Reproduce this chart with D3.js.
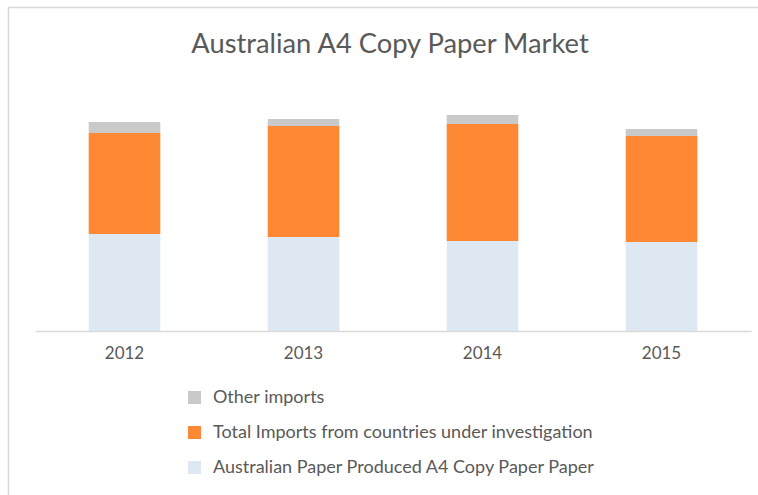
<!DOCTYPE html>
<html>
<head>
<meta charset="utf-8">
<script src="https://cdn.jsdelivr.net/npm/d3@7"></script>
<style>
  html, body { margin: 0; padding: 0; background: #ffffff; }
  svg { display: block; }
  text { font-family: Lato, "Open Sans", sans-serif; fill: #595959; }
</style>
</head>
<body>
<svg id="chart" width="758" height="495"></svg>
<script>
// Market volumes by year (thousand tonnes)
const years = ["2012", "2013", "2014", "2015"];
const domestic = [97, 94, 90, 89];        // Australian Paper Produced A4 Copy Paper Paper
const investigated = [101, 111, 117, 106]; // Total Imports from countries under investigation
const otherImports = [11, 7, 9, 7];        // Other imports

const seriesNames = [
  "Australian Paper Produced A4 Copy Paper Paper",
  "Total Imports from countries under investigation",
  "Other imports"
];
const seriesColors = ["#dee8f3", "#fe8834", "#c9c9c9"];

const rows = years.map((y, i) => ({
  year: y,
  s0: domestic[i],
  s1: investigated[i],
  s2: otherImports[i]
}));
const keys = ["s0", "s1", "s2"];

const svg = d3.select("#chart");

// chart frame
svg.append("rect")
  .attr("x", 8.5).attr("y", 7.5)
  .attr("width", 800).attr("height", 600)
  .attr("fill", "#ffffff")
  .attr("stroke", "#d9d9d9").attr("stroke-width", 1.5);

// title
svg.append("text")
  .attr("x", 390).attr("y", 53)
  .attr("text-anchor", "middle")
  .style("font-size", "27.3px")
  .text("Australian A4 Copy Paper Market");

const plot = { left: 35, right: 751, top: 81, bottom: 331 };

const x = d3.scaleBand()
  .domain(years)
  .range([plot.left, plot.right])
  .paddingInner(0.6)
  .paddingOuter(0.3);

const y = d3.scaleLinear()
  .domain([0, 250])
  .range([plot.bottom, plot.top]);

const stack = d3.stack().keys(keys)(rows);

svg.append("g")
  .selectAll("g")
  .data(stack)
  .join("g")
  .attr("fill", (d, i) => seriesColors[i])
  .selectAll("rect")
  .data(d => d)
  .join("rect")
  .attr("x", d => x(d.data.year))
  .attr("width", x.bandwidth())
  .attr("y", d => y(d[1]))
  .attr("height", d => y(d[0]) - y(d[1]));

// category axis
const axis = svg.append("g")
  .attr("transform", `translate(0,${plot.bottom})`)
  .call(d3.axisBottom(x).tickSize(0).tickPadding(16));
axis.select(".domain").attr("stroke", "#d9d9d9").attr("stroke-width", 1.5);
axis.selectAll("text")
  .style("font-size", "17px")
  .style("font-family", "Lato, \"Open Sans\", sans-serif")
  .attr("fill", "#595959");

// legend, top to bottom: other, investigated, domestic
const legendOrder = [2, 1, 0];
const legend = svg.append("g").attr("transform", "translate(188,397)");
const item = legend.selectAll("g")
  .data(legendOrder)
  .join("g")
  .attr("transform", (d, i) => `translate(0,${i * 35})`);
item.append("rect")
  .attr("x", 0).attr("y", -6)
  .attr("width", 13).attr("height", 13)
  .attr("fill", d => seriesColors[d]);
item.append("text")
  .attr("x", 25).attr("y", 0)
  .attr("dy", "0.35em")
  .style("font-size", "18px")
  .text(d => seriesNames[d]);
</script>
</body>
</html>
